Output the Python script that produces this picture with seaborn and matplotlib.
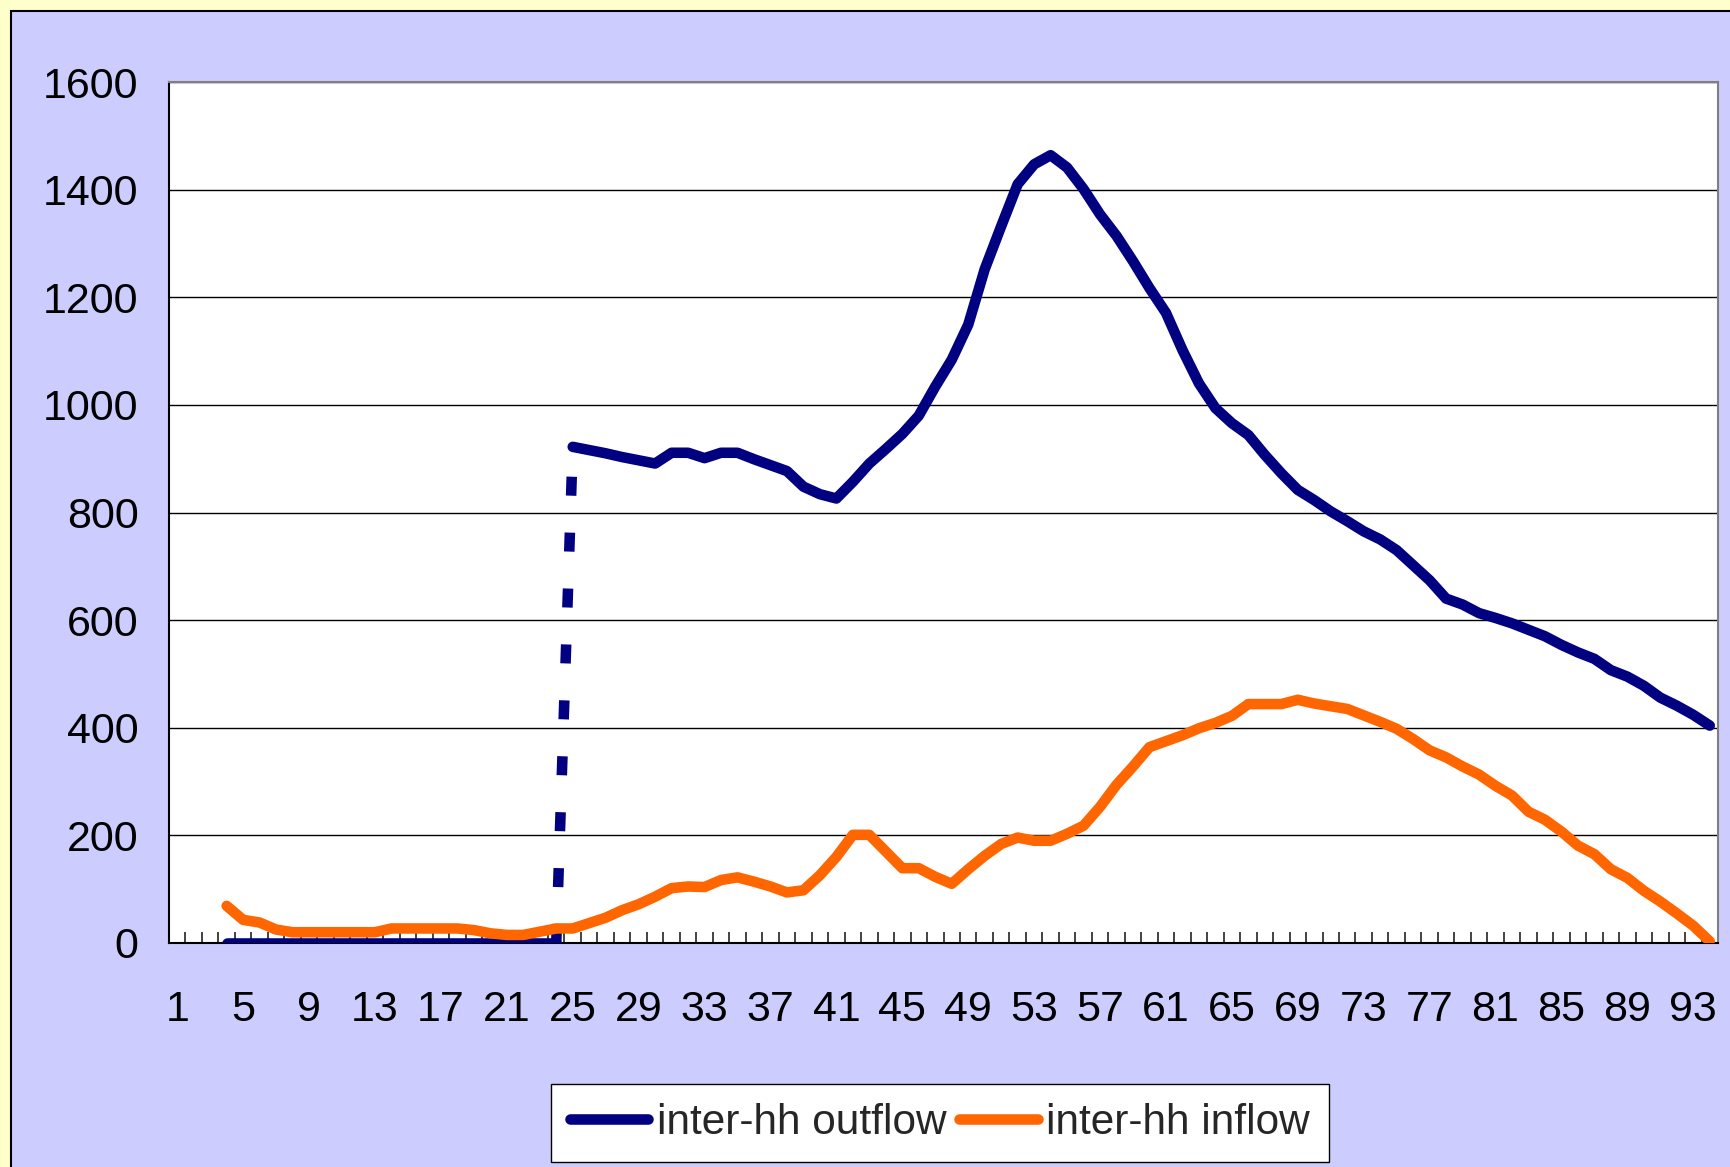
import matplotlib
matplotlib.use("Agg")
import matplotlib.pyplot as plt
from matplotlib.patches import Rectangle
from matplotlib.lines import Line2D
import seaborn as sns
import numpy as np

# days with zero inter-household outflow (before the jump)
zero_days = list(range(4, 25))
zero_vals = [0] * len(zero_days)

# inter-hh outflow, days 25..94
out_days = list(range(25, 95))
out_vals = [922, 916, 910, 903, 897, 891, 911, 911, 901, 911,
            911, 899, 888, 877, 848, 834, 826, 857, 891, 918,
            946, 980, 1034, 1084, 1149, 1252, 1332, 1410, 1447, 1464,
            1441, 1401, 1354, 1314, 1267, 1217, 1171, 1102, 1040, 994,
            966, 944, 907, 873, 842, 823, 802, 784, 765, 750,
            730, 702, 674, 640, 629, 613, 604, 594, 582, 570,
            554, 540, 528, 507, 495, 478, 456, 441, 424, 404]

# inter-hh inflow, days 4..94
in_days = list(range(4, 95))
in_vals = [69, 43, 38, 25, 20, 20, 20, 20, 20, 20,
           27, 27, 27, 27, 27, 24, 18, 15, 15, 21,
           27, 27, 37, 47, 61, 72, 86, 102, 105, 104,
           117, 122, 114, 105, 94, 98, 126, 160, 201, 201,
           170, 139, 139, 123, 110, 137, 162, 184, 196, 190,
           190, 203, 218, 253, 294, 328, 364, 375, 386, 399,
           409, 422, 444, 444, 444, 452, 445, 440, 435, 423,
           411, 398, 379, 358, 345, 328, 313, 292, 274, 244,
           229, 207, 181, 165, 137, 121, 97, 77, 55, 32, 3]

xtick_labels = list(range(1, 94, 4))
n_days = 94

navy = "#000080"
orange = "#FF6600"

sns.set_style("white")
plt.rcParams['font.family'] = ['Liberation Sans', 'DejaVu Sans']

W, H = 1730, 1167
fig = plt.figure(figsize=(W / 100, H / 100), dpi=100, facecolor="#FFFFCC")
fig.add_artist(Rectangle((11 / W, -0.01), 1.1, 1.01 - 11 / H, transform=fig.transFigure,
                         facecolor="#CCCCFF", edgecolor="black", lw=1.5, zorder=0))

left, right, top, bottom = 169 / W, 1718 / W, 1 - 82 / H, 1 - 943 / H
ax = fig.add_axes([left, bottom, right - left, top - bottom])
ax.set_facecolor("white")

lw = 7.6
sns.lineplot(x=zero_days, y=zero_vals, color=navy, lw=lw, ax=ax,
             solid_capstyle="round", solid_joinstyle="round", zorder=3)
sns.lineplot(x=[zero_days[-1], out_days[0]], y=[zero_vals[-1], out_vals[0]], color=navy,
             lw=lw, ax=ax, dashes=False, zorder=3)
ax.lines[-1].set_linestyle((0, (1.8, 3.5)))
ax.lines[-1].set_dash_capstyle("butt")
sns.lineplot(x=out_days, y=out_vals, color=navy, lw=lw, ax=ax,
             solid_capstyle="round", solid_joinstyle="round", zorder=3)
sns.lineplot(x=in_days, y=in_vals, color=orange, lw=lw, ax=ax,
             solid_capstyle="round", solid_joinstyle="round", zorder=4)

ax.set_xlim(0.5, n_days + 0.5)
ax.set_ylim(0, 1600)
ax.set_yticks(np.arange(0, 1601, 200))
ax.set_xticks(xtick_labels)
ax.set_xticklabels([str(v) for v in xtick_labels])
ax.set_xticks(np.arange(0.5, n_days + 1, 1), minor=True)
ax.yaxis.grid(True, color="black", lw=1)
ax.set_axisbelow(True)

ax.tick_params(axis="y", length=0, pad=22, labelsize=31, colors="black")
ax.tick_params(axis="x", which="major", bottom=True, length=0, pad=34, labelsize=31,
               colors="black")
ax.tick_params(axis="x", which="minor", bottom=True, direction="in", length=8, width=1.2,
               color="#222222")
ax.set_xlabel("")
ax.set_ylabel("")

for side in ["left", "bottom"]:
    ax.spines[side].set_color("black")
    ax.spines[side].set_linewidth(1.5)
for side in ["top", "right"]:
    ax.spines[side].set_color("#808080")
    ax.spines[side].set_linewidth(1.5)

handles = [Line2D([], [], color=navy, lw=lw, solid_capstyle="round"),
           Line2D([], [], color=orange, lw=lw, solid_capstyle="round")]
leg = fig.legend(handles, ["inter-hh outflow", "inter-hh inflow"], loc="center",
                 bbox_to_anchor=(940 / W, 1 - 1123 / H), ncol=2, fontsize=30.5,
                 frameon=True, fancybox=False, edgecolor="black", framealpha=1,
                 handlelength=1.85, handletextpad=0.2, columnspacing=0.3,
                 borderpad=0.45, borderaxespad=0)
leg.get_frame().set_linewidth(1)

fig.savefig("out.png", dpi=100, facecolor=fig.get_facecolor())
